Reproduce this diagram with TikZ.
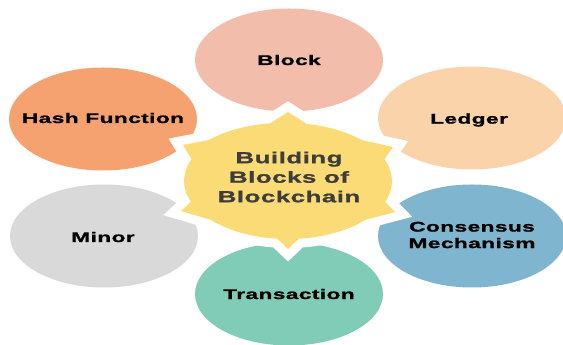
\documentclass[tikz,border=0pt]{standalone}
\usepackage{fontspec}
\newfontfamily\bubblefont{Liberation Sans}[FakeStretch=1.62,LetterSpace=3,BoldFeatures={FakeBold=1.2}]
\usetikzlibrary{shapes.geometric}

\definecolor{blockc}{HTML}{F2BDAA}
\definecolor{ledgerc}{HTML}{FBD3AA}
\definecolor{hashc}{HTML}{F5A270}
\definecolor{minorc}{HTML}{D9D9D9}
\definecolor{consc}{HTML}{7FB5CE}
\definecolor{transc}{HTML}{80CCB6}
\definecolor{burstc}{HTML}{FBDB75}
\definecolor{centretext}{HTML}{3D3D3D}

% outline of the central burst: an ellipse (centre (288,164), radii 104/58)
% with six spikes
\def\burstpath{(306.1,221.6) -- (288,233) -- (269.9,221.6)
  arc[start angle=97,end angle=135,x radius=104,y radius=58]
  -- (183,200) -- (191.6,185.7)
  arc[start angle=158,end angle=201,x radius=104,y radius=58]
  -- (181,134) -- (210.7,125.2)
  arc[start angle=222,end angle=264,x radius=104,y radius=58]
  -- (288,96) -- (298.9,106.3)
  arc[start angle=276,end angle=318,x radius=104,y radius=58]
  -- (395,133) -- (385.1,143.2)
  arc[start angle=339,end angle=382,x radius=104,y radius=58]
  -- (393,198) -- (361.5,205.0)
  arc[start angle=45,end angle=83,x radius=104,y radius=58]
  -- cycle}

\begin{document}
\begin{tikzpicture}[x=1pt,y=1pt,
  bubble/.style={ellipse, minimum width=188pt, minimum height=103pt,
    inner sep=0pt},
  bubbletext/.style={align=center, text=black, inner sep=0pt,
    font=\bubblefont\bfseries\fontsize{14}{16.5}\selectfont},
  centrelabel/.style={align=center, text=centretext,
    font=\bubblefont\bfseries\fontsize{16}{19.5}\selectfont}]
\useasboundingbox (0,0) rectangle (563,345);
\fill[white] (0,0) rectangle (563,345);

% surrounding bubbles
\node[bubble, fill=blockc]  (block)  at (289,285) {};
\node[bubble, fill=ledgerc] (ledger) at (472,227) {};
\node[bubble, fill=hashc]   (hash)   at (103,226) {};
\node[bubble, fill=minorc]  (minor)  at (104,109) {};
\node[bubble, fill=consc]   (cons)   at (472,109) {};
\node[bubble, fill=transc]  (trans)  at (289,51)  {};

\node[bubbletext] (blocklabel)  at (289,285) {Block};
\node[bubbletext] (ledgerlabel) at (469,225) {Ledger};
\node[bubbletext] (hashlabel)   at (103,227) {Hash Function};
\node[bubbletext] (minorlabel)  at (103,108) {Minor};
\node[bubbletext] (conslabel)   at (472,110) {Consensus\\Mechanism};
\node[bubbletext] (translabel)  at (289,51)  {Transaction};

% central burst with a white rim that cuts notches into the bubbles
\path[draw=white, line width=18pt, line join=miter, miter limit=20] \burstpath;
\fill[burstc] \burstpath;
\node[centrelabel] (centre) at (289,168) {Building\\Blocks of\\Blockchain};
\end{tikzpicture}
\end{document}
